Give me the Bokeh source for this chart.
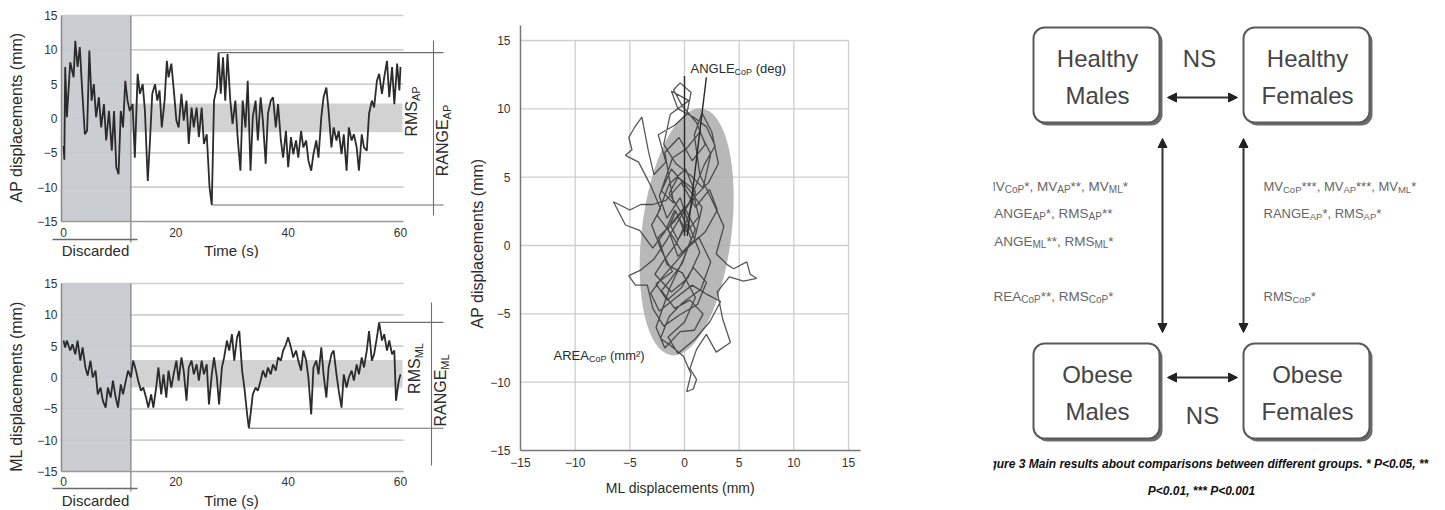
import math
import re

from bokeh.core.properties import value
from bokeh.embed import file_html
from bokeh.layouts import column, row
from bokeh.models import Arrow, FixedTicker, NormalHead, Range1d
from bokeh.plotting import figure
from bokeh.resources import INLINE

# ---------------------------------------------------------------- data
# Centre-of-pressure displacement during one 60 s trial
ap_time_s = [
    0.0, 0.15, 0.3, 0.6, 1.2, 1.8, 2.1, 2.5, 2.9, 3.3,
    3.8, 4.2, 4.6, 5.0, 5.4, 5.8, 6.3, 6.7, 7.2, 7.6,
    8.1, 8.6, 9.0, 9.4, 9.8, 10.2, 10.6, 11.0, 11.4, 11.8,
    12.3, 12.7, 13.2, 13.6, 14.1, 14.5, 15.0, 15.4, 15.8, 16.3,
    16.7, 17.1, 17.5, 18.0, 18.4, 18.7, 19.2, 19.6, 20.1, 20.5,
    21.0, 21.4, 21.9, 22.3, 22.8, 23.2, 23.7, 24.1, 24.6, 25.0,
    25.5, 26.0, 26.4, 26.8, 27.3, 27.6, 28.0, 28.4, 28.8, 29.2,
    29.7, 30.1, 30.6, 31.0, 31.5, 31.9, 32.4, 32.8, 33.3, 33.7,
    34.2, 34.6, 35.1, 35.5, 36.0, 36.4, 36.9, 37.3, 37.8, 38.2,
    38.7, 39.1, 39.6, 40.0, 40.5, 40.9, 41.4, 41.8, 42.3, 42.7,
    43.2, 43.6, 44.1, 44.5, 45.0, 45.4, 45.9, 46.3, 46.8, 47.2,
    47.7, 48.1, 48.6, 49.0, 49.5, 49.9, 50.4, 50.8, 51.3, 51.7,
    52.2, 52.6, 53.1, 53.5, 54.0, 54.4, 54.9, 55.3, 55.8, 56.2,
    56.7, 57.1, 57.6, 58.0, 58.5, 58.9, 59.4, 59.8, 60.0,
]
ap_disp_mm = [
    -4.0, -6.0, 7.5, 0.2, 8.2, 6.0, 11.3, 7.5, 10.4, 4.5,
    -2.3, -1.8, 9.9, 2.6, 5.0, 0.2, 3.1, -1.3, 2.1, -3.2,
    1.1, -4.7, 1.1, -7.1, -8.1, 1.1, -1.3, 5.5, 2.6, 1.1,
    2.1, -5.7, 6.5, 3.6, 5.0, 1.1, -9.1, -3.2, 3.6, 5.0,
    2.6, 4.1, -1.3, 2.6, 8.4, 6.0, 8.0, 4.5, -0.3, -1.3,
    3.6, -0.3, 2.6, -3.7, 1.6, -1.3, 1.6, -2.7, 1.6, -3.7,
    -2.3, -10.0, -12.6, 2.6, 4.5, 9.6, 3.6, 8.9, 2.6, 9.4,
    2.6, -0.8, 2.6, -2.7, -7.6, 2.6, -1.3, 5.5, -7.6, 0.2,
    2.6, -3.2, 3.1, -0.3, -6.6, 0.7, 2.6, 3.1, -1.3, 2.1,
    -3.2, -5.7, -1.8, -7.1, -2.7, -5.2, -3.2, -5.7, -1.8, -4.2,
    -3.2, -6.1, -7.6, -5.2, -3.2, -5.7, 0.2, 3.1, 4.5, 1.1,
    -4.2, -1.3, -3.2, -1.8, -5.2, -2.3, -7.6, -1.3, -3.2, -2.3,
    -4.2, -7.6, -2.3, -4.2, -4.7, 0.7, 2.6, 1.6, 5.5, 6.5,
    3.6, 6.0, 8.4, 3.1, 7.5, 2.1, 8.0, 4.1, 7.5,
]
ml_time_s = [
    0.0, 0.3, 0.6, 1.2, 1.6, 2.1, 2.5, 3.0, 3.4, 3.9,
    4.3, 4.8, 5.2, 5.7, 6.1, 6.6, 7.0, 7.5, 7.9, 8.4,
    8.8, 9.3, 9.7, 10.2, 10.6, 11.1, 11.5, 12.0, 12.4, 12.9,
    13.3, 13.8, 14.2, 14.7, 15.1, 15.6, 16.0, 16.5, 16.9, 17.4,
    17.8, 18.3, 18.7, 19.2, 19.6, 20.1, 20.5, 21.0, 21.4, 21.9,
    22.3, 22.8, 23.2, 23.7, 24.1, 24.6, 25.0, 25.5, 25.9, 26.4,
    26.8, 27.3, 27.7, 28.2, 28.6, 29.1, 29.5, 30.0, 30.4, 30.9,
    31.3, 31.8, 32.2, 32.7, 33.0, 33.3, 33.7, 34.2, 34.6, 35.1,
    35.5, 36.0, 36.4, 36.9, 37.3, 37.8, 38.2, 38.7, 39.1, 39.6,
    40.0, 40.5, 40.9, 41.4, 41.8, 42.3, 42.7, 43.2, 43.6, 44.1,
    44.5, 45.0, 45.4, 45.9, 46.3, 46.8, 47.2, 47.7, 48.1, 48.6,
    49.0, 49.5, 49.9, 50.4, 50.8, 51.3, 51.7, 52.2, 52.6, 53.1,
    53.5, 54.0, 54.4, 54.9, 55.3, 55.8, 56.2, 56.7, 57.1, 57.6,
    58.0, 58.5, 58.9, 59.2, 59.7, 60.0,
]
ml_disp_mm = [
    5.9, 4.8, 5.9, 4.3, 5.3, 3.7, 5.9, 2.7, 4.8, 1.6,
    0.3, 2.7, 0.0, 1.1, -2.7, -1.6, -3.7, -4.8, -1.6, -3.2,
    -0.5, -3.2, -4.8, -1.1, -2.7, -0.5, 1.1, 0.0, 2.7, 1.1,
    -0.5, -2.1, -1.6, -3.2, -4.8, -2.7, -4.8, -1.6, 1.6, -2.7,
    0.5, -3.2, 1.1, -1.6, 0.5, 2.7, -0.5, 3.2, 1.1, -3.7,
    1.6, 2.7, 0.5, 2.1, -0.5, 2.7, 0.5, 2.1, -4.3, 0.5,
    3.2, 0.0, -4.3, 1.6, 3.2, 5.9, 4.3, 6.9, 2.7, 6.4,
    7.4, 1.1, -1.6, -5.9, -8.1, -5.9, -2.7, -1.6, -2.1, -0.5,
    1.1, 0.0, 1.6, 0.5, 2.1, 1.1, 3.2, 2.7, 4.3, 5.3,
    6.4, 4.8, 3.2, 4.3, 2.7, 1.1, 4.3, 2.7, 0.0, -5.9,
    1.6, 2.7, 0.5, 4.8, 0.5, -3.2, 1.6, 3.7, 4.3, 0.5,
    -2.1, -4.8, 0.5, -1.6, 0.0, 1.1, -0.5, 2.1, 0.5, 3.2,
    1.6, 4.3, 7.4, 2.7, 3.7, 6.4, 8.8, 5.9, 6.9, 4.3,
    5.9, 3.7, 4.3, -3.7, -0.5, 0.5,
]

discarded_until_s = 12.0
ap_rms_band_mm = [-2.0, 2.2]
ml_rms_band_mm = [-1.6, 2.8]

time_ticks = [0, 20, 40, 60]
disp_ticks = [-15, -10, -5, 0, 5, 10, 15]

# statokinesigram samples as (ML, AP) in mm
cop_trace_mm = [
    (0.0, 1.0), (-0.8, 2.5), (-1.5, 1.2), (-0.6, -0.8), (0.9, 0.4),
    (1.6, 2.8), (0.4, 4.1), (-1.2, 5.6), (-2.1, 4.0), (-1.0, 3.1),
    (-1.8, 6.8), (-0.5, 7.9), (0.7, 6.2), (1.9, 7.4), (1.1, 9.0),
    (-0.2, 10.2), (-1.0, 11.4), (-0.4, 11.9), (0.6, 11.2), (0.2, 9.6),
    (-0.9, 8.8), (-2.4, 8.1), (-1.7, 6.1), (-2.8, 5.2), (-3.3, 6.9),
    (-3.9, 9.4), (-4.6, 8.6), (-5.1, 7.9), (-4.8, 7.0), (-5.4, 6.6),
    (-4.2, 6.1), (-3.1, 4.4), (-2.2, 2.7), (-3.0, 1.5), (-2.1, -0.4),
    (-1.1, -1.9), (-2.6, -2.8), (-1.6, -4.0), (-0.3, -3.1), (0.8, -1.6),
    (2.0, -2.7), (1.2, -4.3), (-0.5, -5.1), (-1.9, -5.9), (-2.9, -4.6),
    (-3.4, -2.9), (-4.5, -2.9), (-5.1, -2.2), (-4.0, -1.8), (-2.8, -1.0),
    (-1.7, 0.3), (-0.5, 1.9), (0.6, 3.3), (2.2, 4.6), (3.1, 6.0),
    (2.5, 8.3), (1.6, 9.7), (0.9, 8.1), (1.4, 5.2), (2.7, 3.0),
    (3.6, 1.4), (2.9, -0.6), (3.9, -1.4), (4.5, -1.7), (5.7, -1.2),
    (6.0, -2.1), (6.6, -2.4), (5.4, -2.6), (4.1, -2.3), (3.0, -3.4),
    (3.5, -5.4), (4.2, -7.1), (2.9, -7.8), (2.0, -6.5), (1.1, -7.6),
    (0.5, -9.0), (1.1, -9.8), (0.8, -10.5), (0.2, -10.7), (0.6, -9.4),
    (-0.1, -8.1), (-1.3, -7.3), (-2.2, -6.8), (-1.4, -5.2), (-0.2, -4.2),
    (1.5, -3.2), (2.4, -1.2), (1.3, 0.6), (-0.2, -0.5), (-1.2, 0.8),
    (-2.5, 2.2), (-1.4, 4.5), (0.1, 5.6), (1.0, 3.9), (0.3, 2.0),
    (-0.7, 0.2), (-1.9, -1.1), (-2.7, -2.1), (-1.2, -3.4), (0.3, -2.4),
    (1.4, -0.5), (0.5, 1.3), (-0.4, 3.5), (-1.6, 2.0), (-2.3, 3.6),
    (-1.1, 6.4), (0.2, 7.1), (1.4, 8.3), (2.4, 6.7), (1.7, 4.2),
    (0.6, 5.1), (-0.8, 6.0), (-1.9, 7.4), (-1.3, 9.6), (0.4, 10.6),
    (-1.2, 11.3), (-0.6, 10.0), (0.8, 9.4), (2.0, 8.7), (2.8, 7.3),
    (1.8, 5.9), (0.4, 3.1), (-1.0, 1.7), (-2.4, 0.6), (-1.6, -1.4),
    (-0.2, -2.0), (1.0, -3.8), (0.0, -5.6), (-1.5, -6.7), (-0.6, -7.9),
    (0.9, -6.9), (2.3, -5.6), (3.3, -4.1), (2.1, -3.6), (0.7, -2.9),
    (-0.9, -3.9), (-2.3, -4.8), (-3.1, -3.5), (-2.0, -2.3), (-0.8, -1.2),
    (0.4, -0.1), (1.9, 1.0), (3.0, 2.6), (2.3, 4.1), (1.0, 2.8),
    (-0.3, 4.6), (-1.7, 3.3), (-2.9, 3.0), (-4.0, 3.0), (-5.0, 2.6),
    (-6.5, 3.2), (-5.4, 1.5), (-4.1, 1.1), (-2.9, -0.2), (-1.8, 1.0),
    (-0.9, 2.6), (0.2, 1.0), (1.3, 2.1), (0.7, 4.2), (-0.6, 5.0),
    (-1.4, 3.8), (-0.3, 2.4), (0.6, 0.5), (-0.2, -1.3), (-1.4, -2.6),
    (-2.1, -3.3), (-0.9, -4.6), (0.5, -4.0), (1.7, -5.0), (0.9, -6.2),
    (-0.4, -6.3), (-1.8, -7.5), (-2.6, -6.0), (-1.4, -3.2), (-0.1, -1.0),
    (1.0, 1.2), (0.0, 2.8), (-1.3, 1.5), (-0.6, 0.4), (0.3, 1.6),
]
ellipse_center_mm = [0.2, 1.0]
ellipse_size_mm = [8.2, 18.2]
ellipse_tilt_deg = -7.0
angle_ref_ml = [0.0, 0.0]
angle_ref_ap = [0.7, 12.4]
angle_axis_ml = [0.25, 2.0]
angle_axis_ap = [0.7, 12.3]

group_first = ["Healthy", "Healthy", "Obese", "Obese"]
group_second = ["Males", "Females", "Males", "Females"]
sex_comparison = ["NS", "NS"]
male_findings = [
    "MV_{CoP}*, MV_{AP}**, MV_{ML}*",
    "RANGE_{AP}*, RMS_{AP}**",
    "RANGE_{ML}**, RMS_{ML}*",
    "AREA_{CoP}**, RMS_{CoP}*",
]
female_findings = [
    "MV_{CoP}***, MV_{AP}***, MV_{ML}*",
    "RANGE_{AP}*, RMS_{AP}*",
    "RMS_{CoP}*",
]
caption_lines = [
    "Figure 3 Main results about comparisons between different groups. * P<0.05, **",
    "P<0.01, *** P<0.001",
]

# ---------------------------------------------------------------- helpers
FONT = value("Liberation Sans")
INK = "#2b2b2b"

# Arial / Liberation Sans advance widths (1/1000 em), used to chain subscripts
ADV = {
    " ": 278, "(": 333, ")": 333, "*": 389, ",": 278, "-": 333, ".": 278,
    "<": 584, "\u00b2": 333, "A": 667, "C": 722, "E": 667, "G": 778,
    "L": 556, "M": 833, "N": 722, "P": 667, "R": 722, "S": 667, "V": 667,
    "d": 556, "e": 556, "g": 556, "m": 833, "o": 556,
}


def text_px(s, size):
    return sum(ADV.get(c, 556) for c in s) * size / 1000.0


def split_runs(markup):
    runs, pos = [], 0
    for m in re.finditer(r"_\{([^}]*)\}", markup):
        if m.start() > pos:
            runs.append((markup[pos:m.start()], False))
        runs.append((m.group(1), True))
        pos = m.end()
    if pos < len(markup):
        runs.append((markup[pos:], False))
    return runs


def rich_text(p, markup, x, y, size, sub_size, ux, uy, color=INK,
              vertical=False, align="left", sub_drop=3.0):
    """Text with subscripts; ux/uy are data units per screen pixel
    (rightwards / downwards)."""
    runs = split_runs(markup)
    widths = [text_px(s, sub_size if sub else size) for s, sub in runs]
    pos = -sum(widths) / 2.0 if align == "center" else 0.0
    main = {"x": [], "y": [], "text": []}
    subs = {"x": [], "y": [], "text": []}
    for (s, sub), w in zip(runs, widths):
        fs = sub_size if sub else size
        # leading blanks are collapsed by SVG, so advance past them here
        stripped = s.lstrip(" ")
        lead = text_px(s[:len(s) - len(stripped)], fs)
        start = pos + lead
        if vertical:
            dx, dy = (sub_drop if sub else 0.0), -start
        else:
            dx, dy = start, (sub_drop if sub else 0.0)
        tgt = subs if sub else main
        tgt["x"].append(x + dx * ux)
        tgt["y"].append(y + dy * uy)
        tgt["text"].append(stripped)
        pos += w
    for d, fs in ((main, size), (subs, sub_size)):
        if d["text"]:
            p.text(x=d["x"], y=d["y"], text=d["text"],
                   angle=math.pi / 2 if vertical else 0.0,
                   text_font=FONT, text_font_size=f"{fs}px", text_color=color,
                   text_align="left",
                   text_baseline="middle" if vertical else "alphabetic")


def style_axis(ax, standoff):
    ax.axis_line_color = "#9a9a9a"
    ax.axis_line_width = 1.5
    ax.major_tick_out = 0
    ax.major_tick_in = 0
    ax.minor_tick_out = 0
    ax.minor_tick_in = 0
    ax.major_label_standoff = standoff
    ax.major_label_text_font = "Liberation Sans"
    ax.major_label_text_font_size = "12px"
    ax.major_label_text_color = "#333333"


# ---------------------------------------------------------------- time series
T0_PX = 63.0
PX_PER_S = 337.0 / 60.0


def time_panel(t, d, band, height, y15_px, px_per_mm, ylabel, ylabel_py,
               rms_label, rms_px, range_label, range_px, bar_px, bar_py,
               bracket_py, label_py, tick_standoff):
    def X(px):
        return (px - T0_PX) / PX_PER_S

    def Y(py):
        return 15.0 - (py - y15_px) / px_per_mm

    p = figure(width=460, height=height,
               x_range=Range1d(X(0), X(460)), y_range=Range1d(Y(height), Y(0)),
               output_backend="svg", toolbar_location=None, min_border=0,
               outline_line_color=None, background_fill_color="white")
    p.xgrid.visible = False
    p.ygrid.visible = False

    rows = [v for v in disp_ticks if v > disp_ticks[0]]
    p.segment(x0=[X(61)] * len(rows), y0=rows, x1=[X(403)] * len(rows), y1=rows,
              line_color="#cfcfcf", line_width=1.6)

    p.quad(left=[X(61)], right=[discarded_until_s], bottom=[disp_ticks[0]],
           top=[disp_ticks[-1]], fill_color="#c6c9cd", fill_alpha=0.92,
           line_color=None)
    p.quad(left=[discarded_until_s], right=[X(402)], bottom=[band[0]], top=[band[1]],
           fill_color="#d2d2d2", line_color=None)

    # end of the discarded window and its bracket
    p.segment(x0=[discarded_until_s], y0=[disp_ticks[-1]], x1=[discarded_until_s],
              y1=[Y(bracket_py + 3)], line_color="#858585", line_width=1.3)
    p.segment(x0=[X(52)], y0=[Y(bracket_py)], x1=[X(137)], y1=[Y(bracket_py)],
              line_color="#6a6a6a", line_width=1.3)

    p.line(t, d, line_color=INK, line_width=1.8)

    # range markers taken from the retained part of the trace
    kept = [(ti, di) for ti, di in zip(t, d) if ti >= discarded_until_s]
    t_hi, d_hi = max(kept, key=lambda k: k[1])
    t_lo, d_lo = min(kept, key=lambda k: k[1])
    p.segment(x0=[t_hi, t_lo], y0=[d_hi, d_lo], x1=[X(443)] * 2, y1=[d_hi, d_lo],
              line_color="#6e6e6e", line_width=1.1)
    p.segment(x0=[X(bar_px)], y0=[Y(bar_py[0])], x1=[X(bar_px)], y1=[Y(bar_py[1])],
              line_color="#6e6e6e", line_width=1.1)

    xa = p.xaxis[0]
    xa.fixed_location = disp_ticks[0]
    xa.bounds = (X(61), X(403))
    xa.ticker = FixedTicker(ticks=time_ticks)
    style_axis(xa, tick_standoff)
    ya = p.yaxis[0]
    ya.fixed_location = X(61)
    ya.bounds = (disp_ticks[0], disp_ticks[-1])
    ya.ticker = FixedTicker(ticks=disp_ticks)
    style_axis(ya, 4)
    ya.axis_line_color = "#8a8a8a"

    p.text(x=[X(16)], y=[Y(ylabel_py)], text=[ylabel], angle=math.pi / 2,
           text_font=FONT, text_font_size="16px", text_color=INK,
           text_align="center", text_baseline="middle")
    p.text(x=[X(95), X(231)], y=[Y(label_py)] * 2, text=["Discarded", "Time (s)"],
           text_font=FONT, text_font_size="15px", text_color=INK,
           text_align="center", text_baseline="middle")

    ux, uy = 1.0 / PX_PER_S, -1.0 / px_per_mm
    rich_text(p, rms_label, X(rms_px[0]), Y(rms_px[1]), 16, 11, ux, uy,
              vertical=True, align="center", sub_drop=4.0)
    rich_text(p, range_label, X(range_px[0]), Y(range_px[1]), 16, 11, ux, uy,
              vertical=True, align="center", sub_drop=4.0)
    return p


p_ap = time_panel(ap_time_s, ap_disp_mm, ap_rms_band_mm, height=258, y15_px=15,
                  px_per_mm=206 / 30.0, ylabel="AP displacements (mm)", ylabel_py=117,
                  rms_label="RMS_{AP}", rms_px=(411, 111),
                  range_label="RANGE_{AP}", range_px=(442, 140),
                  bar_px=433, bar_py=(40, 215), bracket_py=239, label_py=250,
                  tick_standoff=6)
p_ml = time_panel(ml_time_s, ml_disp_mm, ml_rms_band_mm, height=252, y15_px=25,
                  px_per_mm=188 / 30.0, ylabel="ML displacements (mm)", ylabel_py=128,
                  rms_label="RMS_{ML}", rms_px=(414, 110),
                  range_label="RANGE_{ML}", range_px=(440, 132),
                  bar_px=431, bar_py=(44, 207), bracket_py=230, label_py=242,
                  tick_standoff=5)

# ---------------------------------------------------------------- statokinesigram
S3X = 328.0 / 30.0
S3Y = 410.0 / 30.0


def X3(gx):
    return -15.0 + (gx - 520.0) / S3X


def Y3(py):
    return 15.0 - (py - 40.0) / S3Y


p_cop = figure(width=500, height=510,
               x_range=Range1d(X3(460), X3(960)), y_range=Range1d(Y3(510), Y3(0)),
               output_backend="svg", toolbar_location=None, min_border=0,
               outline_line_color=None)
p_cop.xgrid.visible = False
p_cop.ygrid.visible = False

inner = disp_ticks[1:]
lo, hi = disp_ticks[0], disp_ticks[-1]
p_cop.segment(x0=inner, y0=[lo] * len(inner), x1=inner, y1=[hi] * len(inner),
              line_color="#cdcdcd", line_width=1.3)
p_cop.segment(x0=[lo] * len(inner), y0=inner, x1=[hi] * len(inner), y1=inner,
              line_color="#cdcdcd", line_width=1.3)

p_cop.ellipse(x=[ellipse_center_mm[0]], y=[ellipse_center_mm[1]],
              width=[ellipse_size_mm[0]], height=[ellipse_size_mm[1]],
              angle=[math.radians(ellipse_tilt_deg)],
              fill_color="#acacac", fill_alpha=0.85, line_color=None)

cop_ml = [pt[0] for pt in cop_trace_mm]
cop_ap = [pt[1] for pt in cop_trace_mm]
p_cop.line(cop_ml, cop_ap, line_color="#2e2e2e", line_width=1.3, line_alpha=0.8)

p_cop.line(angle_ref_ml, angle_ref_ap, line_color="#2a2a2a", line_width=1.4)
p_cop.line(angle_axis_ml, angle_axis_ap, line_color="#2a2a2a", line_width=1.4)

cx = p_cop.xaxis[0]
cx.fixed_location = lo
cx.bounds = (lo, X3(860))
cx.ticker = FixedTicker(ticks=disp_ticks)
style_axis(cx, 7)
cx.axis_line_color = "#777777"
cy = p_cop.yaxis[0]
cy.fixed_location = lo
cy.bounds = (lo, Y3(25))
cy.ticker = FixedTicker(ticks=disp_ticks)
style_axis(cy, 10)
cy.axis_line_color = "#777777"

p_cop.text(x=[X3(477)], y=[Y3(243)], text=["AP displacements (mm)"], angle=math.pi / 2,
           text_font=FONT, text_font_size="16px", text_color=INK,
           text_align="center", text_baseline="middle")
p_cop.text(x=[X3(680)], y=[Y3(487)], text=["ML displacements (mm)"],
           text_font=FONT, text_font_size="14px", text_color=INK,
           text_align="center", text_baseline="middle")
rich_text(p_cop, "ANGLE_{CoP} (deg)", X3(690), Y3(68), 13, 9, 1 / S3X, -1 / S3Y)
rich_text(p_cop, "AREA_{CoP} (mm\u00b2)", X3(553), Y3(355), 13, 9, 1 / S3X, -1 / S3Y)

# ---------------------------------------------------------------- group diagram
p_grp = figure(width=485, height=510,
               x_range=Range1d(993, 1445), y_range=Range1d(510, 0),
               x_axis_type=None, y_axis_type=None,
               output_backend="svg", toolbar_location=None,
               min_border_left=33, min_border_right=0, min_border_top=0,
               min_border_bottom=0, outline_line_color=None)

box_left = [1033, 1243, 1033, 1243]
box_top = [27, 27, 343, 343]
BOX_W, BOX_H, SHADOW = 126, 95, 3

p_grp.quad(left=[b + SHADOW for b in box_left], right=[b + SHADOW + BOX_W for b in box_left],
           top=[b + SHADOW for b in box_top], bottom=[b + SHADOW + BOX_H for b in box_top],
           fill_color="#6c6c6c", line_color=None, border_radius=11)
p_grp.quad(left=box_left, right=[b + BOX_W for b in box_left],
           top=box_top, bottom=[b + BOX_H for b in box_top],
           fill_color="white", line_color="#5a5a5a", line_width=2, border_radius=11)

centers = [b + BOX_W / 2 + 1 for b in box_left]
p_grp.text(x=centers + centers,
           y=[b + 31 for b in box_top] + [b + 68 for b in box_top],
           text=group_first + group_second,
           text_font=FONT, text_font_size="24px", text_color="#454545",
           text_align="center", text_baseline="middle")
p_grp.text(x=[1199, 1202], y=[58, 415], text=sex_comparison,
           text_font=FONT, text_font_size="24px", text_color="#454545",
           text_align="center", text_baseline="middle")


def link(x0, y0, x1, y1):
    p_grp.add_layout(Arrow(
        x_start=x0, y_start=y0, x_end=x1, y_end=y1,
        start=NormalHead(size=9, fill_color="#222222", line_color="#222222"),
        end=NormalHead(size=9, fill_color="#222222", line_color="#222222"),
        line_color="#333333", line_width=2))


link(1167, 97, 1237, 97)
link(1167, 377, 1237, 377)
link(1162, 138, 1162, 332)
link(1243, 138, 1243, 332)

for text_line, yc in zip(male_findings, [182, 209, 237, 292]):
    rich_text(p_grp, text_line, 984, yc + 4, 13.5, 10, 1.0, 1.0, color="#666666")
for text_line, yc in zip(female_findings, [182, 209, 292]):
    rich_text(p_grp, text_line, 1263, yc + 4, 13, 9.5, 1.0, 1.0, color="#666666")

p_grp.text(x=[1203, 1201], y=[463, 490], text=caption_lines,
           text_font=FONT, text_font_size="12px", text_font_style="bold italic",
           text_color="#111111", text_align="center", text_baseline="middle")

layout = row(column(p_ap, p_ml), p_cop, p_grp)
open("out.html", "w").write(file_html(layout, INLINE, title="Postural sway"))
